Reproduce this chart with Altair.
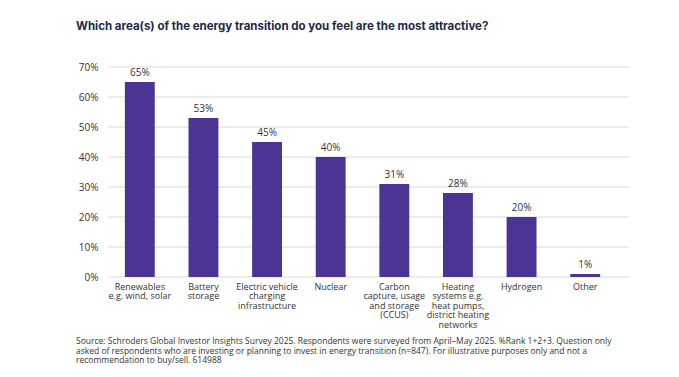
import altair as alt
import pandas as pd

categories = [
    "Renewables|e.g. wind, solar",
    "Battery|storage",
    "Electric vehicle|charging|infrastructure",
    "Nuclear",
    "Carbon|capture, usage|and storage|(CCUS)",
    "Heating|systems e.g.|heat pumps,|district heating|networks",
    "Hydrogen",
    "Other",
]
values = [65, 53, 45, 40, 31, 28, 20, 1]
y_ticks = [0, 10, 20, 30, 40, 50, 60, 70]

title_text = "Which area(s) of the energy transition do you feel are the most attractive?"
footnote_lines = [
    "Source: Schroders Global Investor Insights Survey 2025. Respondents were surveyed from April\u2013May 2025. %Rank 1+2+3. Question only",
    "asked of respondents who are investing or planning to invest in energy transition (n=847). For illustrative purposes only and not a",
    "recommendation to buy/sell. 614988",
]

df = pd.DataFrame({"category": categories, "value": values})
df["label"] = df["value"].astype(str) + "%"
grid_df = pd.DataFrame({"value": y_ticks})
foot = pd.DataFrame({"text": ["\n".join(footnote_lines)]})

W, H = 521, 210
FONT = "Open Sans"
BAR = "#4b3494"

x = alt.X("category:N", sort=None,
          scale=alt.Scale(domain=categories, range=[0, 509], paddingInner=0.53, paddingOuter=0.265),
          axis=alt.Axis(title=None, labelAngle=0, domain=False, ticks=False, labelPadding=5,
                        labelExpr="split(datum.label, '|')", labelFont=FONT, labelFontSize=9,
                        labelColor="#333333", labelLineHeight=9.5, labelBaseline="top"))
y = alt.Y("value:Q", scale=alt.Scale(domain=[0, 70]),
          axis=alt.Axis(title=None, values=y_ticks, domain=False, ticks=False, grid=False,
                        labelPadding=10, labelOverlap=False, labelExpr="datum.value + '%'",
                        labelFont=FONT, labelFontSize=10, labelColor="#333333"))

grid = alt.Chart(grid_df).mark_rule(color="#d9d9d9", strokeWidth=1).encode(
    y=y, x=alt.value(0), x2=alt.value(W))
bars = alt.Chart(df).mark_bar(color=BAR).encode(x=x, y=y)
labels = alt.Chart(df).mark_text(font=FONT, fontSize=10, color="#333333", baseline="bottom", dy=-4).encode(
    x=x, y=y, text="label:N")

footnote = alt.Chart(foot).mark_text(font=FONT, fontSize=8.5, color="#333333", align="left",
                                     baseline="middle", lineBreak="\n", lineHeight=9.7).encode(
    x=alt.value(-32),
    y=alt.value(H + 64),
    text="text:N",
)

chart = alt.layer(grid, bars, labels, footnote).properties(
    width=W, height=H,
    title=alt.Title(title_text, anchor="start", dx=0, offset=30, font="Inter", fontSize=11.5,
                    fontWeight="bold", color="#1b2a47"),
    autosize=alt.AutoSizeParams(type="none"),
    padding={"left": 100, "top": 59, "right": 42, "bottom": 92},
).configure_view(stroke=None)

chart.save("out.html", embed_options={"renderer": "svg", "actions": False})
